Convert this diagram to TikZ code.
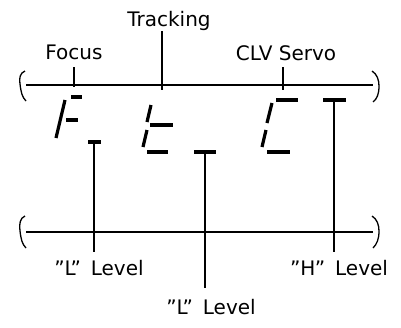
\documentclass[tikz,border=0pt]{standalone}
\usepackage{fontspec}
\setmainfont{DejaVu Sans}

\begin{document}
\begin{tikzpicture}[
      x=1pt, y=-1pt,
      inner sep=0pt,
      lbl/.style={anchor=base, font=\fontsize{20}{24}\selectfont},
      rail/.style={line width=1.8pt},
      brk/.style={line width=1.3pt},
      tick/.style={line width=1.1pt},
      seg/.style={line width=3.2pt}
    ]
    \useasboundingbox (0,0) rectangle (401,327);
    \node (focus) [lbl] at (74,59) {Focus};
    \node (track) [lbl] at (169,26) {Tracking};
    \node (clv) [lbl] at (286,60) {CLV Servo};
    \node (lowF) [lbl] at (99,275) {"L"\hspace{0.5em}Level};
    \node (lowT) [lbl] at (211,314) {"L"\hspace{0.5em}Level};
    \node (highC) [lbl] at (339,275) {"H"\hspace{0.5em}Level};
    \coordinate (upL) at (26,85);
    \coordinate (upR) at (373,85);
    \coordinate (dnL) at (26,232);
    \coordinate (dnR) at (373,232);
    \draw[rail] (upL) -- (upR);
    \draw[rail] (dnL) -- (dnR);
    \draw[brk] (25,71) .. controls (20,73) and (19,78) .. (20,84)
      .. controls (21,92) and (22,97) .. (26,101);
    \draw[brk] (372,71) .. controls (377,74) and (379,80) .. (379,86)
      .. controls (379,94) and (377,99) .. (373,102);
    \draw[brk] (25,216) .. controls (20,218) and (19,224) .. (20,231)
      .. controls (21,239) and (22,244) .. (26,248);
    \draw[brk] (372,216) .. controls (377,219) and (379,225) .. (379,231)
      .. controls (379,239) and (377,244) .. (373,248);
    \coordinate (focusTop) at (74,67);
    \coordinate (focusBot) at (74,87);
    \coordinate (trackTop) at (162,31);
    \coordinate (trackBot) at (162,90);
    \coordinate (clvTop) at (283,67);
    \coordinate (clvBot) at (283,90);
    \draw[tick] (focusTop) -- (focusBot);
    \draw[tick] (trackTop) -- (trackBot);
    \draw[tick] (clvTop) -- (clvBot);
    \draw[seg] (71,97) -- (82,97);
    \draw[seg] (65,100) -- (56,138);
    \draw[seg] (66,120) -- (78,120);
    \draw[seg] (88,142) -- (101,142);
    \draw[seg] (151,105) -- (147,122);
    \draw[seg] (150,125) -- (173,125);
    \draw[seg] (147,130) -- (143,147);
    \draw[seg] (147,152) -- (168,152);
    \draw[seg] (194,152) -- (216,152);
    \draw[seg] (276,100) -- (298,100);
    \draw[seg] (272,103) -- (267,123);
    \draw[seg] (266,130) -- (262,147);
    \draw[seg] (267,152) -- (290,152);
    \draw[seg] (323,100) -- (346,100);
    \coordinate (segF) at (94,143);
    \coordinate (endF) at (94,252);
    \coordinate (segT) at (205,153);
    \coordinate (endT) at (205,288);
    \coordinate (segC) at (334,101);
    \coordinate (endC) at (334,252);
    \draw[tick] (segF) -- (endF);
    \draw[tick] (segT) -- (endT);
    \draw[tick] (segC) -- (endC);
  \end{tikzpicture}
\end{document}
